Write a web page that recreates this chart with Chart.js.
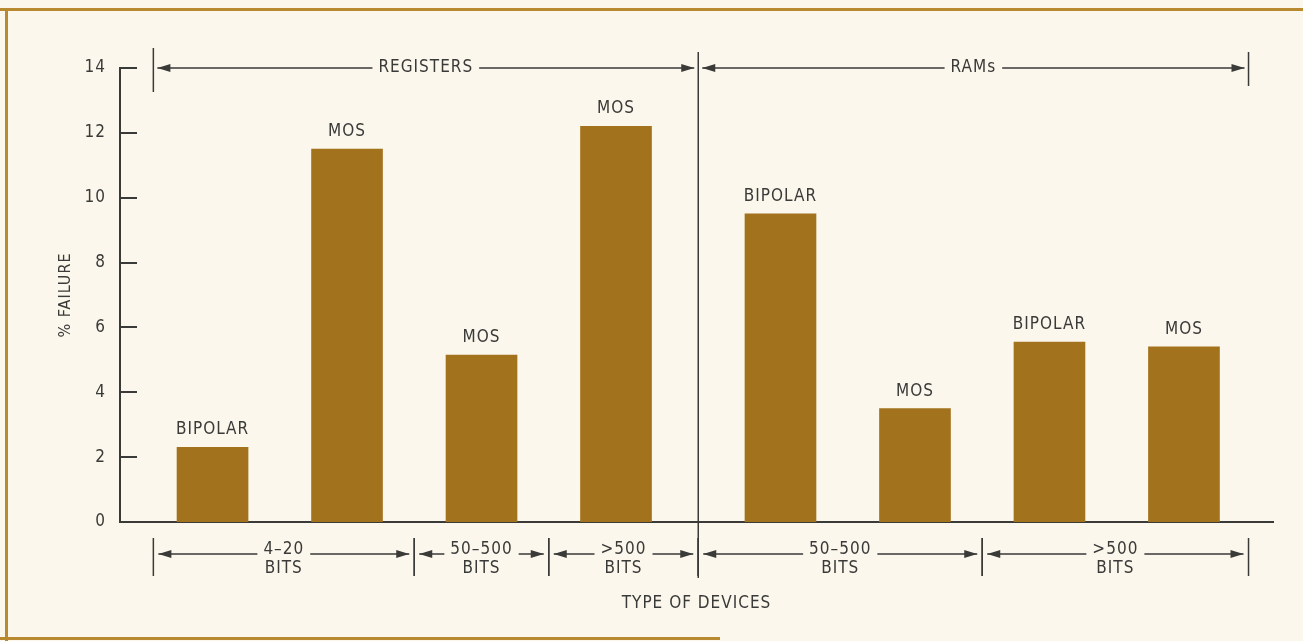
<!DOCTYPE html>
<html>
<head>
<meta charset="utf-8">
<title>% Failure by type of device</title>
<script src="https://cdn.jsdelivr.net/npm/chart.js@4/dist/chart.umd.min.js"></script>
<style>
  html, body { margin: 0; padding: 0; background: #fbf7ec; }
  #wrap { position: relative; width: 1303px; height: 641px; }
</style>
</head>
<body>
<div id="wrap"><canvas id="failures" width="1303" height="641"></canvas></div>
<script>
// one entry per bar
const families = ["REGISTERS", "REGISTERS", "REGISTERS", "REGISTERS", "RAMs", "RAMs", "RAMs", "RAMs"];
const bitRanges = ["4\u201320", "4\u201320", "50\u2013500", ">500", "50\u2013500", "50\u2013500", ">500", ">500"];
const technologies = ["BIPOLAR", "MOS", "MOS", "MOS", "BIPOLAR", "MOS", "BIPOLAR", "MOS"];
const failurePct = [2.3, 11.5, 5.15, 12.2, 9.5, 3.5, 5.55, 5.4];
const yTicks = [0, 2, 4, 6, 8, 10, 12, 14];

const INK = "#3a3a38";
const BAR = "#a2721d";
const FRAME = "#b8892e";
const PAPER = "#fbf7ec";
const FONT = '"Liberation Sans Narrow", "DejaVu Sans Condensed", "Arial Narrow", sans-serif';
const FAMILY_GAP = 0.223; // extra space between registers and RAMs, in bar slots

// x slot of each bar, pushed along where the device family changes
const slots = [];
let shift = 0;
for (let i = 0; i < failurePct.length; i++) {
    if (i > 0 && families[i] !== families[i - 1]) shift += FAMILY_GAP;
    slots.push(i + shift);
}

// runs of consecutive bars sharing the same key
function runs(keyOf) {
    const out = [];
    let start = 0;
    for (let i = 1; i <= failurePct.length; i++) {
        if (i === failurePct.length || keyOf(i) !== keyOf(i - 1)) {
            out.push({ from: start, to: i - 1 });
            start = i;
        }
    }
    return out;
}

function arrowHead(ctx, x, y, dir) {
    ctx.beginPath();
    ctx.moveTo(x, y);
    ctx.lineTo(x - dir * 13, y - 4);
    ctx.lineTo(x - dir * 13, y + 4);
    ctx.closePath();
    ctx.fill();
}

// double arrow from x0 to x1 broken around a centred label
function spanArrow(ctx, x0, x1, y, label, textY) {
    const cx = (x0 + x1) / 2;
    const half = ctx.measureText(label).width / 2 + 6;
    ctx.beginPath();
    ctx.moveTo(x0, y);
    ctx.lineTo(cx - half, y);
    ctx.moveTo(cx + half, y);
    ctx.lineTo(x1, y);
    ctx.stroke();
    arrowHead(ctx, x0, y, -1);
    arrowHead(ctx, x1, y, 1);
    ctx.fillText(label, cx, textY === undefined ? y : textY);
}

function vLine(ctx, x, y0, y1) {
    ctx.beginPath();
    ctx.moveTo(x, y0);
    ctx.lineTo(x, y1);
    ctx.stroke();
}

const paperPlugin = {
    id: "paper",
    beforeDraw(chart) {
        const ctx = chart.ctx;
        ctx.letterSpacing = "1px";
        ctx.save();
        ctx.fillStyle = PAPER;
        ctx.fillRect(0, 0, chart.width, chart.height);
        ctx.fillStyle = FRAME;
        ctx.fillRect(0, 8, chart.width, 3);
        ctx.fillRect(5, 8, 3, chart.height - 8);
        ctx.fillRect(0, chart.height - 4, 720, 3);
        ctx.restore();
    }
};

const annotationPlugin = {
    id: "annotations",
    afterDraw(chart) {
        const ctx = chart.ctx;
        const x = chart.scales.x;
        const y = chart.scales.y;
        const area = chart.chartArea;
        const px = slots.map(s => x.getPixelForValue(s));
        const last = px.length - 1;
        const leftEdge = x.getPixelForValue(slots[0] - 0.44);
        const rightEdge = x.getPixelForValue(slots[last] + 0.48);
        const edgeBefore = i => (i === 0 ? leftEdge : (px[i - 1] + px[i]) / 2);
        const edgeAfter = i => (i === last ? rightEdge : (px[i] + px[i + 1]) / 2);

        ctx.save();
        ctx.strokeStyle = INK;
        ctx.fillStyle = INK;
        ctx.font = "17px " + FONT;
        ctx.textAlign = "center";
        ctx.textBaseline = "middle";

        // tick marks point into the plot
        ctx.lineWidth = 2;
        yTicks.forEach(v => {
            const py = Math.round(y.getPixelForValue(v));
            ctx.beginPath();
            ctx.moveTo(area.left, py);
            ctx.lineTo(area.left + 17, py);
            ctx.stroke();
        });

        // technology name above every bar
        ctx.textBaseline = "alphabetic";
        chart.getDatasetMeta(0).data.forEach((bar, i) => {
            ctx.fillText(technologies[i], bar.x, bar.y - 13);
        });
        ctx.textBaseline = "middle";

        // family spans along the top, the divider runs down through the axis
        ctx.lineWidth = 1.5;
        const topY = area.top;
        const familyRuns = runs(i => families[i]);
        vLine(ctx, leftEdge, topY - 20, topY + 24);
        vLine(ctx, rightEdge, topY - 16, topY + 18);
        familyRuns.forEach((g, k) => {
            const x0 = edgeBefore(g.from);
            const x1 = edgeAfter(g.to);
            if (k > 0) vLine(ctx, x0, topY - 16, area.bottom + 56);
            spanArrow(ctx, x0 + 4, x1 - 4, topY, families[g.from]);
        });

        // bit ranges under the axis
        const rowY = area.bottom + 32;
        runs(i => families[i] + bitRanges[i]).forEach(g => {
            const x0 = edgeBefore(g.from);
            const x1 = edgeAfter(g.to);
            vLine(ctx, x0, rowY - 16, rowY + 22);
            vLine(ctx, x1, rowY - 16, rowY + 22);
            spanArrow(ctx, x0 + 5, x1 - 5, rowY, bitRanges[g.from], rowY - 4);
            ctx.fillText("BITS", (x0 + x1) / 2, rowY + 15);
        });

        ctx.restore();
    }
};

const ctx = document.getElementById("failures");

const graph = new Chart(ctx, {
    type: "bar",
    data: {
        datasets: [
            {
                label: "% failure",
                data: failurePct.map((v, i) => ({ x: slots[i], y: v })),
                backgroundColor: BAR,
                borderWidth: 0,
                barThickness: 71
            }
        ]
    },
    options: {
        responsive: false,
        animation: false,
        layout: {
            padding: { top: 68, right: 30, bottom: 0, left: 0 }
        },
        scales: {
            x: {
                type: "linear",
                offset: false,
                min: -0.688,
                max: 7.885,
                ticks: { display: false },
                grid: { display: false, drawTicks: false, offset: false },
                border: { display: true, color: INK, width: 2 },
                title: {
                    display: true,
                    text: "TYPE OF DEVICES",
                    color: INK,
                    font: { family: FONT, size: 17 },
                    padding: { top: 0, bottom: 27 }
                },
                afterFit(scale) { scale.height = 119; }
            },
            y: {
                min: 0,
                max: 14,
                afterBuildTicks(scale) { scale.ticks = yTicks.map(v => ({ value: v })); },
                ticks: {
                    color: INK,
                    padding: 14,
                    font: { family: FONT, size: 17 }
                },
                grid: { display: false, drawTicks: false },
                border: { display: true, color: INK, width: 2 },
                title: {
                    display: true,
                    text: "% FAILURE",
                    color: INK,
                    font: { family: FONT, size: 16 },
                    padding: { top: 56, bottom: 0 }
                },
                afterFit(scale) { scale.width = 120; }
            }
        },
        plugins: {
            legend: { display: false },
            tooltip: { enabled: false }
        }
    },
    plugins: [paperPlugin, annotationPlugin]
});
</script>
</body>
</html>
